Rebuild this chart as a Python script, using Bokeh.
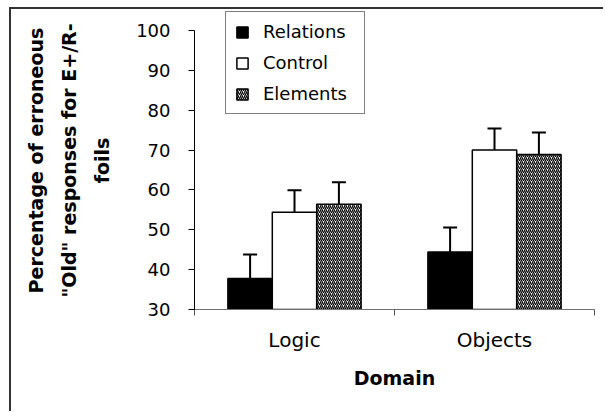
from bokeh.plotting import figure
from bokeh.models import (ColumnDataSource, FixedTicker, Whisker, TeeHead, Legend,
                          LegendItem, Range1d)
from bokeh.embed import file_html
from bokeh.resources import INLINE

# ---- data ----
categories = ["Logic", "Objects"]
series_names = ["Relations", "Control", "Elements"]
relations = [37.8, 44.4]
control = [54.4, 70.0]
elements = [56.4, 68.9]
relations_err = [6.0, 6.2]
control_err = [5.5, 5.4]
elements_err = [5.5, 5.5]
y_ticks = [30, 40, 50, 60, 70, 80, 90, 100]

FONT = "DejaVu Sans"

# frame extends a little above 100 so the legend box (which sits above the plot area) is not clipped
p = figure(width=594, height=404, x_range=Range1d(0, len(categories)), y_range=Range1d(30, 104.77),
           output_backend="svg", toolbar_location=None,
           min_border_left=183, min_border_right=11, min_border_top=2, min_border_bottom=104)
p.outline_line_color = None
p.xgrid.visible = False
p.ygrid.visible = False
p.border_fill_color = "white"
p.styles = {"margin-left": "11px", "margin-top": "9px",
            "box-shadow": "-2px -2px 0px 0px #333333"}

centers = [i + 0.5 for i in range(len(categories))]
bar_w = 0.222
offsets = [-bar_w, 0.0, bar_w]
series = [relations, control, elements]
errors = [relations_err, control_err, elements_err]
styles = [
    dict(fill_color="black"),
    dict(fill_color="white"),
    dict(fill_color="white", hatch_pattern="/", hatch_color="black", hatch_scale=4, hatch_weight=1.3),
]

items = []
for name, vals, errs, off, st in zip(series_names, series, errors, offsets, styles):
    xs = [c + off for c in centers]
    src = ColumnDataSource(dict(x=xs, top=vals,
                                upper=[v + e for v, e in zip(vals, errs)],
                                lower=[v - e for v, e in zip(vals, errs)]))
    r = p.vbar(x="x", top="top", bottom=30, width=bar_w, source=src,
               line_color="black", line_width=1.5, **st)
    items.append(LegendItem(label=name, renderers=[r]))
    w = Whisker(base="x", upper="upper", lower="lower", source=src,
                line_color="black", line_width=2,
                upper_head=TeeHead(size=14, line_width=2, line_color="black"),
                lower_head=TeeHead(size=14, line_width=2, line_color="black"))
    p.add_layout(w)

# y axis
ya = p.yaxis[0]
ya.ticker = FixedTicker(ticks=y_ticks)
ya.bounds = (y_ticks[0], y_ticks[-1])
ya.minor_tick_line_color = None
ya.major_tick_in = 0
ya.major_tick_out = 6
ya.axis_line_color = "black"
ya.major_tick_line_color = "black"
ya.major_label_text_font = FONT
ya.major_label_text_font_size = "18px"
ya.major_label_text_color = "black"
ya.major_label_standoff = 18
ya.axis_label = "Percentage of erroneous\n\"Old\" responses for E+/R-\nfoils"
ya.axis_label_text_font = FONT
ya.axis_label_text_font_style = "bold"
ya.axis_label_text_font_size = "19px"
ya.axis_label_text_line_height = 1.5
ya.axis_label_text_color = "black"
ya.axis_label_standoff = 20

# x axis
xa = p.xaxis[0]
xa.ticker = FixedTicker(ticks=centers, minor_ticks=list(range(len(categories) + 1)))
xa.major_label_overrides = {c: cat for c, cat in zip(centers, categories)}
xa.major_tick_in = 0
xa.major_tick_out = 0
xa.minor_tick_in = 0
xa.minor_tick_out = 6
xa.axis_line_color = "#707070"
xa.minor_tick_line_color = "#505050"
xa.major_label_text_font = FONT
xa.major_label_text_font_size = "20px"
xa.major_label_text_color = "black"
xa.major_label_standoff = 12
xa.axis_label = "Domain"
xa.axis_label_text_font = FONT
xa.axis_label_text_font_style = "bold"
xa.axis_label_text_font_size = "19px"
xa.axis_label_text_color = "black"
xa.axis_label_standoff = 12

legend = Legend(items=items, location=(31, 195), orientation="vertical",
                border_line_color="black", border_line_width=1,
                background_fill_color="white", background_fill_alpha=1,
                label_text_font=FONT, label_text_font_size="18px", label_text_color="black",
                glyph_width=14, glyph_height=14, label_standoff=14, spacing=10,
                padding=9, margin=0, label_height=20, label_width=92)
p.add_layout(legend, "center")

open("out.html", "w").write(file_html(p, INLINE))
